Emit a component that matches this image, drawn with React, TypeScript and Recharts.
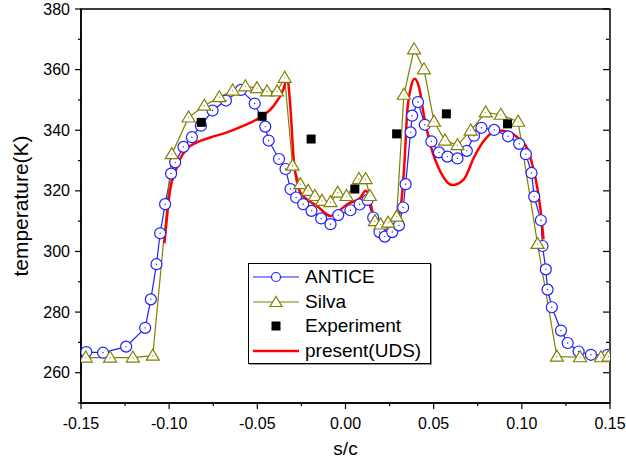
import React from 'react';
import {
  ComposedChart,
  Line,
  XAxis,
  YAxis,
  Legend,
  ReferenceArea,
  Label
} from 'recharts';

const FONT = '"Liberation Sans", Arial, sans-serif';
const BLUE = '#1f1fff';
const OLIVE = '#808000';
const RED = '#ff0000';

// [s/c, temperature K]
const anticePoints: [number, number][] = [
  [-0.147, 266.8], [-0.1375, 266.6], [-0.1244, 268.6], [-0.1136, 274.8], [-0.1104, 284.2],
  [-0.1072, 295.8], [-0.1051, 306.0], [-0.1023, 315.6], [-0.0989, 325.7], [-0.0966, 329.4],
  [-0.0919, 334.5], [-0.0871, 337.7], [-0.082, 341.5], [-0.0754, 346.5], [-0.0678, 349.8],
  [-0.0593, 353.3], [-0.0515, 348.8], [-0.0455, 341.2], [-0.0436, 336.6], [-0.0377, 330.5],
  [-0.034, 327.2], [-0.0312, 320.6], [-0.028, 317.8], [-0.024, 315.6], [-0.0193, 313.4],
  [-0.0138, 310.9], [-0.0085, 309.0], [-0.0041, 312.0], [0.0028, 313.6], [0.008, 315.5],
  [0.0125, 317.0], [0.0157, 311.2], [0.0193, 306.4], [0.0223, 304.9], [0.0265, 306.4],
  [0.0303, 308.6], [0.0327, 314.5], [0.0341, 322.2], [0.0369, 339.3], [0.0378, 344.8],
  [0.0411, 349.3], [0.045, 341.8], [0.0487, 336.3], [0.053, 332.7], [0.0578, 331.3],
  [0.0635, 330.7], [0.0688, 333.2], [0.0729, 338.2], [0.0771, 340.8], [0.0843, 340.1],
  [0.0922, 338.0], [0.0985, 335.5], [0.1023, 332.1], [0.1055, 325.9], [0.107, 318.1],
  [0.1108, 310.3], [0.1117, 301.8], [0.1136, 294.1], [0.1146, 287.4], [0.117, 281.6],
  [0.1222, 273.9], [0.126, 269.8], [0.1322, 267.0], [0.1392, 265.9], [0.1487, 265.9]
];

const silvaPoints: [number, number][] = [
  [-0.1473, 265.0], [-0.1335, 265.0], [-0.1206, 265.0], [-0.1093, 265.6], [-0.0985, 332.1],
  [-0.089, 344.2], [-0.0801, 348.1], [-0.0716, 350.9], [-0.064, 353.1], [-0.0568, 354.5],
  [-0.0502, 353.9], [-0.0445, 352.8], [-0.0388, 352.8], [-0.0345, 357.3], [-0.03, 328.3],
  [-0.0256, 322.2], [-0.0212, 320.0], [-0.0174, 318.3], [-0.0133, 316.7], [-0.0085, 316.3],
  [-0.0044, 319.4], [0.0006, 318.3], [0.0076, 323.9], [0.0114, 323.9], [0.0138, 318.3],
  [0.0167, 310.0], [0.0199, 308.9], [0.0242, 309.5], [0.029, 311.5], [0.0331, 351.7],
  [0.0389, 366.7], [0.0445, 360.1], [0.0502, 342.8], [0.0564, 336.6], [0.0635, 335.1],
  [0.071, 339.9], [0.0795, 345.9], [0.0881, 345.1], [0.0979, 342.8], [0.1089, 302.5],
  [0.1199, 265.3], [0.133, 265.1], [0.1449, 265.1], [0.1491, 265.3]
];

const experimentPoints: [number, number][] = [
  [-0.0818, 342.6], [-0.0473, 344.6], [-0.0195, 337.1], [0.0053, 320.6],
  [0.029, 338.8], [0.0572, 345.4], [0.0919, 342.1]
];

const presentPoints: [number, number][] = [
  [-0.1027, 302.7], [-0.1013, 311.0], [-0.0994, 320.6], [-0.0966, 326.1], [-0.0938, 330.5],
  [-0.09, 333.8], [-0.0843, 336.0], [-0.0767, 337.6], [-0.0672, 339.3], [-0.0578, 341.5],
  [-0.0483, 344.3], [-0.0407, 348.1], [-0.0351, 353.7], [-0.0331, 357.3], [-0.0312, 347.1],
  [-0.0294, 330.5], [-0.0274, 322.7], [-0.0256, 319.4], [-0.0218, 317.2], [-0.0161, 315.0],
  [-0.0085, 311.7], [-0.0038, 313.4], [0.001, 315.6], [0.0085, 317.8], [0.0114, 320.0],
  [0.0133, 318.3], [0.0146, 314.5], [0.0171, 309.5], [0.0199, 307.5], [0.0237, 307.3],
  [0.0274, 308.4], [0.0303, 311.7], [0.0322, 319.4], [0.0335, 330.0], [0.035, 346.0],
  [0.0369, 353.7], [0.0392, 357.0], [0.0417, 354.2], [0.0445, 344.8], [0.0483, 334.9],
  [0.054, 326.1], [0.0606, 321.9], [0.0672, 323.9], [0.0729, 331.1], [0.0786, 336.6],
  [0.0862, 339.9], [0.0918, 339.5], [0.0985, 337.1], [0.1032, 333.8], [0.1061, 328.3],
  [0.1089, 320.6], [0.1108, 312.8], [0.1123, 304.0]
];

const xTicks = [-0.15, -0.125, -0.1, -0.075, -0.05, -0.025, 0, 0.025, 0.05, 0.075, 0.1, 0.125, 0.15];
const xLabelTicks = [-0.15, -0.1, -0.05, 0, 0.05, 0.1, 0.15];
const yTicks = [250, 260, 270, 280, 290, 300, 310, 320, 330, 340, 350, 360, 370, 380];
const yLabelTicks = [260, 280, 300, 320, 340, 360, 380];

const toRows = (pts: [number, number][]) => pts.map(([x, y]) => ({ x, y }));
const isIn = (list: number[], v: number) => list.some(t => Math.abs(t - v) < 1e-9);

const XTickBottom = (props: any) => {
  const { x, y, payload } = props;
  const major = isIn(xLabelTicks, payload.value);
  const axisY = y - 6;
  return (
    <g>
      <line x1={x} x2={x} y1={axisY} y2={axisY + (major ? 6 : 3)} stroke="#000" strokeWidth={1.2} />
      {major && (
        <text x={x} y={axisY + 15} dy="0.71em" textAnchor="middle" fontSize={16} fill="#000" fontFamily={FONT}>
          {payload.value.toFixed(2)}
        </text>
      )}
    </g>
  );
};

const XTickTop = (props: any) => {
  const { x, y, payload } = props;
  const major = isIn(xLabelTicks, payload.value);
  const axisY = y - 4;
  return <line x1={x} x2={x} y1={axisY} y2={axisY + (major ? 6 : 3)} stroke="#000" strokeWidth={1.2} />;
};

const YTickLeft = (props: any) => {
  const { x, y, payload } = props;
  const major = isIn(yLabelTicks, payload.value);
  const axisX = x + 6;
  return (
    <g>
      <line x1={axisX - (major ? 6 : 3)} x2={axisX} y1={y} y2={y} stroke="#000" strokeWidth={1.2} />
      {major && (
        <text x={axisX - 11} y={y} dy="0.35em" textAnchor="end" fontSize={16} fill="#000" fontFamily={FONT}>
          {payload.value}
        </text>
      )}
    </g>
  );
};

const YTickRight = (props: any) => {
  const { x, y, payload } = props;
  const major = isIn(yLabelTicks, payload.value);
  const axisX = x + 4;
  return <line x1={axisX - (major ? 6 : 3)} x2={axisX} y1={y} y2={y} stroke="#000" strokeWidth={1.2} />;
};

const CircleDot = (props: any) => {
  const { cx, cy } = props;
  if (cx == null || cy == null) return null;
  return (
    <g>
      <circle cx={cx} cy={cy} r={5.5} fill="#fff" stroke={BLUE} strokeWidth={1.2} />
      <circle cx={cx} cy={cy} r={0.7} fill={BLUE} />
    </g>
  );
};

const TriangleDot = (props: any) => {
  const { cx, cy } = props;
  if (cx == null || cy == null) return null;
  return (
    <g>
      <polygon
        points={`${cx},${cy - 6.5} ${cx - 6.5},${cy + 4.5} ${cx + 6.5},${cy + 4.5}`}
        fill="#fff"
        stroke={OLIVE}
        strokeWidth={1.2}
      />
      <circle cx={cx} cy={cy} r={0.6} fill={OLIVE} />
    </g>
  );
};

const SquareDot = (props: any) => {
  const { cx, cy } = props;
  if (cx == null || cy == null) return null;
  return <rect x={cx - 4.5} y={cy - 4.5} width={9} height={9} fill="#000" />;
};

const legendItems = [
  { name: 'ANTICE', kind: 'circle' },
  { name: 'Silva', kind: 'triangle' },
  { name: 'Experiment', kind: 'square' },
  { name: 'present(UDS)', kind: 'line' }
];

const LegendBox = () => (
  <div
    style={{
      border: '1px solid #000',
      background: '#fff',
      padding: '1px 4px',
      width: 173,
      height: 97,
      fontFamily: FONT,
      fontSize: 19,
      color: '#000',
      boxShadow: '1px 1px 0 #999'
    }}
  >
    {legendItems.map(item => (
      <div key={item.name} style={{ display: 'flex', alignItems: 'center', height: 24.5 }}>
        <svg width={46} height={16} style={{ flex: 'none' }}>
          {item.kind === 'circle' && (
            <>
              <line x1={0} x2={46} y1={8} y2={8} stroke={BLUE} strokeWidth={1.2} />
              <circle cx={23} cy={8} r={4.5} fill="#fff" stroke={BLUE} strokeWidth={1.2} />
            </>
          )}
          {item.kind === 'triangle' && (
            <>
              <line x1={0} x2={46} y1={8} y2={8} stroke={OLIVE} strokeWidth={1.2} />
              <polygon points="23,2.5 17,12.5 29,12.5" fill="#fff" stroke={OLIVE} strokeWidth={1.2} />
            </>
          )}
          {item.kind === 'square' && <rect x={18.5} y={3.5} width={9} height={9} fill="#000" />}
          {item.kind === 'line' && <line x1={0} x2={46} y1={8} y2={8} stroke={RED} strokeWidth={2.5} />}
        </svg>
        <span style={{ marginLeft: 6, lineHeight: '20px' }}>{item.name}</span>
      </div>
    ))}
  </div>
);

export default function App() {
  return (
    <div style={{ position: 'absolute', left: 0, top: 0, width: 626, height: 465, background: '#fff' }}>
      <ComposedChart width={626} height={465} margin={{ top: 9, right: 16, bottom: 12, left: 0 }}>
        <XAxis
          type="number"
          dataKey="x"
          domain={[-0.15, 0.15]}
          ticks={xTicks}
          interval={0}
          height={50}
          tickSize={6}
          tickMargin={0}
          tickLine={false}
          tick={<XTickBottom />}
          axisLine={{ stroke: '#000', strokeWidth: 1.5 }}
          allowDataOverflow
        >
          <Label value="s/c" position="insideBottom" offset={-2} style={{ fontSize: 19, fill: '#000', fontFamily: FONT }} />
        </XAxis>
        <XAxis
          xAxisId="top"
          orientation="top"
          type="number"
          domain={[-0.15, 0.15]}
          ticks={xTicks}
          interval={0}
          height={1}
          mirror
          tickSize={5}
          tickMargin={0}
          tickLine={false}
          axisLine={false}
          tick={<XTickTop />}
          allowDataOverflow
        />
        <YAxis
          type="number"
          domain={[250, 380]}
          ticks={yTicks}
          interval={0}
          width={81}
          tickSize={6}
          tickMargin={0}
          tickLine={false}
          tick={<YTickLeft />}
          axisLine={{ stroke: '#000', strokeWidth: 1.5 }}
          allowDataOverflow
        >
          <Label
            value="temperature(K)"
            angle={-90}
            position="insideLeft"
            offset={21}
            style={{ fontSize: 21, fill: '#000', fontFamily: FONT, textAnchor: 'middle' }}
          />
        </YAxis>
        <YAxis
          yAxisId="right"
          orientation="right"
          type="number"
          domain={[250, 380]}
          ticks={yTicks}
          interval={0}
          width={1}
          mirror
          tickSize={5}
          tickMargin={0}
          tickLine={false}
          axisLine={false}
          tick={<YTickRight />}
          allowDataOverflow
        />
        <ReferenceArea x1={-0.15} x2={0.15} y1={250} y2={380} fill="none" stroke="#000" strokeWidth={1.5} />
        <Line
          data={toRows(anticePoints)}
          dataKey="y"
          name="ANTICE"
          type="linear"
          stroke={BLUE}
          strokeWidth={1.2}
          dot={<CircleDot />}
          activeDot={false}
          isAnimationActive={false}
        />
        <Line
          data={toRows(silvaPoints)}
          dataKey="y"
          name="Silva"
          type="linear"
          stroke={OLIVE}
          strokeWidth={1.2}
          dot={<TriangleDot />}
          activeDot={false}
          isAnimationActive={false}
        />
        <Line
          data={toRows(presentPoints)}
          dataKey="y"
          name="present(UDS)"
          type="monotone"
          stroke={RED}
          strokeWidth={2.5}
          dot={false}
          activeDot={false}
          isAnimationActive={false}
        />
        <Line
          data={toRows(experimentPoints)}
          dataKey="y"
          name="Experiment"
          stroke="none"
          dot={<SquareDot />}
          activeDot={false}
          isAnimationActive={false}
        />
        <Legend
          layout="vertical"
          align="center"
          verticalAlign="middle"
          content={<LegendBox />}
          wrapperStyle={{ left: 248, top: 263, width: 183 }}
        />
      </ComposedChart>
    </div>
  );
}
